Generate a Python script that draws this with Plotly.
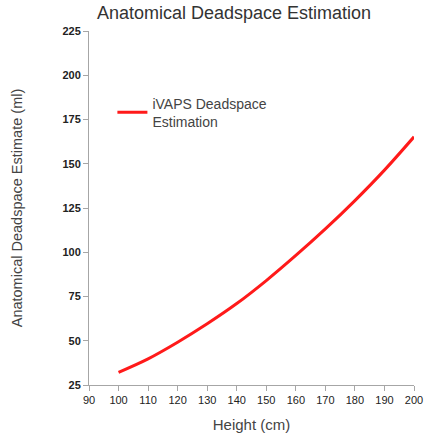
import plotly.graph_objects as go

height_cm = [100, 110, 120, 130, 140, 150, 160, 170, 180, 190, 200]
deadspace_ml = [32.2, 39.8, 49.2, 59.6, 71.0, 84.0, 98.2, 113.2, 129.2, 146.4, 165.2]
x_ticks = [90, 100, 110, 120, 130, 140, 150, 160, 170, 180, 190, 200]
y_ticks = [25, 50, 75, 100, 125, 150, 175, 200, 225]

fig = go.Figure()
fig.add_trace(go.Scatter(
    x=height_cm, y=deadspace_ml, mode="lines", line_shape="spline",
    line=dict(color="#ff1a1a", width=3),
    name="iVAPS Deadspace<br>Estimation",
))

axis_common = dict(showgrid=False, zeroline=False, showline=True, linecolor="#a6a6a6",
                   linewidth=1, ticks="outside", tickcolor="#a6a6a6", ticklen=5,
                   automargin=False)

fig.update_layout(
    width=424, height=437,
    margin=dict(l=89, r=10, t=31, b=52),
    paper_bgcolor="white", plot_bgcolor="white",
    font=dict(family="Liberation Sans, Arial, sans-serif", color="#333333"),
    title=dict(text="Anatomical Deadspace Estimation", x=0.552, xanchor="center",
               y=0.971, yanchor="middle", font=dict(size=18, color="#333333")),
    xaxis=dict(range=[90, 200], tickvals=x_ticks, tickfont=dict(size=11, color="#222222"),
               title=dict(text="Height (cm)", font=dict(size=15, color="#444444"), standoff=14),
               **axis_common),
    yaxis=dict(range=[25, 225], tickvals=y_ticks,
               tickfont=dict(size=11, color="#222222", weight="bold"),
               title=dict(text="Anatomical Deadspace Estimate (ml)", font=dict(size=14.5, color="#444444"), standoff=36),
               **axis_common),
    showlegend=True,
    legend=dict(x=0.072, y=0.84, xanchor="left", yanchor="top", bgcolor="rgba(0,0,0,0)",
                font=dict(size=14, color="#444444")),
)

fig.write_html("out.html", config={"displayModeBar": False},
               post_script="document.body.style.margin='0';")
